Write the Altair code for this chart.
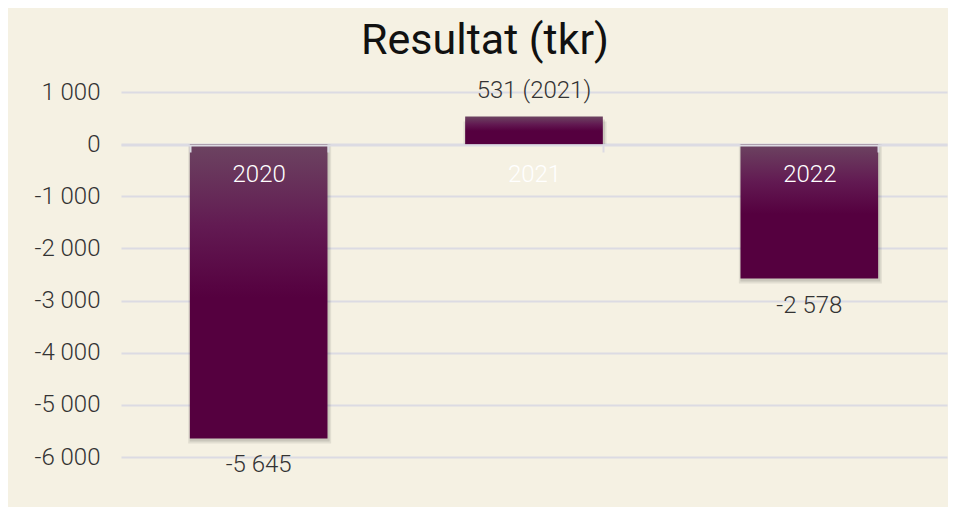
import altair as alt
import pandas as pd

years = ["2020", "2021", "2022"]
values = [-5645, 531, -2578]
value_labels = ["-5 645", "531 (2021)", "-2 578"]
y_ticks = [1000, 0, -1000, -2000, -3000, -4000, -5000, -6000]

df = pd.DataFrame({"year": years, "value": values, "label": value_labels})

FONT = "Roboto"
BG = "#F5F1E3"
GRID = "#DCDBE3"
FS = 24

x_enc = alt.X(
    "year:N",
    sort=years,
    scale=alt.Scale(paddingInner=0.5, paddingOuter=0.25),
    axis=alt.Axis(
        title=None,
        orient="bottom",
        offset=-312,
        domain=True,
        domainColor=GRID,
        domainWidth=2,
        ticks=True,
        tickBand="extent",
        tickColor=GRID,
        tickWidth=2,
        tickSize=7,
        labels=True,
        labelColor="white",
        labelFont=FONT,
        labelFontSize=FS,
        labelFontWeight=300,
        labelPadding=10,
        labelAngle=0,
        grid=False,
        zindex=1,
    ),
)

y_enc = alt.Y(
    "value:Q",
    scale=alt.Scale(domain=[-6000, 1000], nice=False, zero=False),
    axis=alt.Axis(
        title=None,
        values=y_ticks,
        labelExpr="replace(replace(format(datum.value, ','), ',', ' '), '\u2212', '-')",
        domain=False,
        ticks=False,
        grid=True,
        gridColor=GRID,
        gridWidth=2,
        labelFont=FONT,
        labelFontSize=FS,
        labelFontWeight=300,
        labelColor="#333333",
        labelPadding=21,
    ),
)

gradient = alt.Gradient(
    gradient="linear",
    stops=[
        alt.GradientStop(color="#6C4461", offset=0),
        alt.GradientStop(color="#621A52", offset=0.28),
        alt.GradientStop(color="#55003F", offset=0.52),
        alt.GradientStop(color="#55003F", offset=1),
    ],
    x1=0, x2=0, y1=0, y2=1,
)

base = alt.Chart(df)

shadow1 = base.mark_bar(color="#000000", opacity=0.08, xOffset=1, yOffset=5, width=143).encode(
    x=x_enc, y=y_enc, y2=alt.datum(0)
)
shadow2 = base.mark_bar(color="#000000", opacity=0.10, xOffset=1, yOffset=3, width=140).encode(
    x=x_enc, y=y_enc, y2=alt.datum(0)
)

bars = base.mark_bar(color=gradient).encode(
    x=x_enc, y=y_enc, y2=alt.datum(0)
)

text_kw = dict(font=FONT, fontSize=FS, fontWeight=300, color="#333333", baseline="middle")

labels_neg = base.transform_filter("datum.value < 0").mark_text(dy=27, **text_kw).encode(
    x=alt.X("year:N", sort=years),
    y=alt.Y("value:Q"),
    text="label:N",
)
labels_pos = base.transform_filter("datum.value >= 0").mark_text(dy=-25, **text_kw).encode(
    x=alt.X("year:N", sort=years),
    y=alt.Y("value:Q"),
    text="label:N",
)

chart = (
    alt.layer(shadow1, shadow2, bars, labels_neg, labels_pos)
    .properties(
        width=826,
        height=365,
        autosize=alt.AutoSizeParams(type="none"),
        padding={"left": 113, "top": 84, "right": 1, "bottom": 50},
        background=BG,
        title=alt.Title(
            "Resultat (tkr)",
            font=FONT,
            fontSize=43,
            fontWeight=400,
            color="#111111",
            anchor="middle",
            frame="group",
            dx=-49,
            offset=16,
        ),
    )
    .configure_view(stroke=None)
)

chart.save("out.html", embed_options={"renderer": "svg", "actions": False})
